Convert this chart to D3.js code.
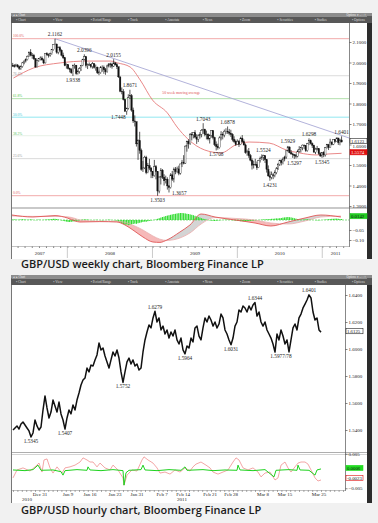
<!DOCTYPE html>
<html lang="en">
<head>
<meta charset="utf-8">
<title>GBP/USD weekly and hourly charts</title>
<script src="https://cdn.jsdelivr.net/npm/d3@7"></script>
<style>
  body { margin: 0; background: #f1f1f1; }
  svg { display: block; }
  .caption { font-family: "Open Sans", sans-serif; font-weight: 600; font-size: 11px; fill: #1b1b1b; }
</style>
</head>
<body>
<script>
// ---------- weekly data (bars ending on Fridays, from 11 May 2007) ----------
const weeklyStart = new Date(2007, 4, 11);
const weeklyClose = [
  1.985,1.980,1.988,1.979,1.971,1.980,1.998,2.007,2.014,2.030,
  2.050,2.036,2.035,2.018,1.978,2.010,2.018,2.022,2.013,1.998,
  2.044,2.038,2.036,2.043,2.062,2.088,2.090,2.050,2.072,2.060,
  2.036,2.023,1.985,1.990,
  1.970,1.966,1.950,1.985,1.987,1.946,1.956,1.970,1.986,2.016,
  2.028,1.985,1.988,1.990,1.980,1.994,1.976,1.977,1.950,1.950,
  1.976,1.977,1.965,1.955,1.983,1.993,1.992,1.982,1.998,1.989,
  1.979,1.930,1.860,1.857,1.820,1.762,1.777,1.828,1.838,1.768,
  1.715,1.712,1.603,1.619,1.571,1.479,1.486,1.538,1.463,1.497,
  1.485,1.469,
  1.448,1.492,1.468,1.373,1.441,1.475,1.440,1.423,1.431,1.398,
  1.390,1.452,1.431,1.480,1.468,1.481,1.460,1.505,1.514,1.509,
  1.592,1.616,1.604,1.649,1.647,1.657,1.636,1.626,1.642,1.650,
  1.669,1.674,1.650,1.650,1.627,1.645,1.668,1.634,1.600,1.590,
  1.584,1.632,1.649,1.646,1.664,1.665,1.661,1.655,1.649,1.625,
  1.614,1.600,
  1.615,1.600,1.631,1.614,1.598,1.561,1.567,1.546,1.524,1.499,
  1.504,1.502,1.487,1.522,1.532,1.539,1.545,1.526,1.479,1.447,
  1.440,1.452,1.450,1.463,1.481,1.503,1.522,1.512,1.529,1.539,
  1.569,1.588,1.560,1.554,1.550,1.545,1.543,1.567,1.576,1.585,
  1.597,1.594,1.570,1.604,1.618,1.605,1.596,1.563,1.577,1.580,
  1.556,1.544,1.560,
  1.549,1.584,1.599,1.585,1.612,1.601,1.624,1.614,1.632,1.609,
  1.622,1.612
];
const weeklyHigh = [
  1.998,1.992,1.994,1.992,1.985,1.986,2.003,2.010,2.020,2.034,
  2.054,2.065,2.046,2.042,2.022,2.014,2.022,2.030,2.030,2.019,
  2.045,2.050,2.044,2.048,2.066,2.090,2.116,2.092,2.078,2.080,
  2.064,2.048,2.027,1.995,
  1.990,1.975,1.972,1.990,1.995,1.988,1.965,1.977,1.988,2.018,
  2.040,2.032,1.995,2.000,1.993,2.002,1.995,1.990,1.980,1.960,
  1.983,1.986,1.985,1.973,1.989,1.997,1.999,1.999,2.016,2.002,
  1.997,1.980,1.930,1.878,1.870,1.822,1.780,1.845,1.867,1.846,
  1.780,1.742,1.710,1.625,1.662,1.580,1.520,1.545,1.545,1.510,
  1.530,1.490,
  1.471,1.525,1.500,1.470,1.445,1.485,1.480,1.455,1.448,1.440,
  1.402,1.460,1.471,1.488,1.490,1.492,1.497,1.506,1.525,1.548,
  1.596,1.619,1.625,1.656,1.660,1.659,1.670,1.650,1.650,1.660,
  1.675,1.704,1.677,1.668,1.655,1.650,1.670,1.670,1.638,1.615,
  1.604,1.640,1.665,1.660,1.673,1.679,1.688,1.676,1.672,1.655,
  1.640,1.624,
  1.625,1.622,1.638,1.646,1.625,1.605,1.575,1.583,1.554,1.532,
  1.521,1.530,1.517,1.525,1.541,1.552,1.550,1.548,1.527,1.498,
  1.469,1.468,1.460,1.474,1.490,1.510,1.526,1.528,1.537,1.545,
  1.572,1.593,1.590,1.573,1.560,1.554,1.555,1.575,1.592,1.589,
  1.600,1.600,1.595,1.608,1.630,1.624,1.610,1.599,1.584,1.593,
  1.582,1.562,1.562,
  1.567,1.588,1.603,1.603,1.628,1.615,1.626,1.627,1.634,1.630,
  1.628,1.640
];
const weeklyLow = [
  1.978,1.975,1.977,1.975,1.963,1.964,1.975,1.991,2.000,2.010,
  2.027,2.030,2.018,2.012,1.975,1.980,2.003,2.010,2.008,1.992,
  1.995,2.033,2.024,2.028,2.038,2.058,2.085,2.043,2.040,2.050,
  2.030,2.017,1.982,1.970,
  1.966,1.952,1.945,1.934,1.970,1.940,1.941,1.946,1.959,1.982,
  2.010,1.975,1.968,1.984,1.972,1.970,1.970,1.960,1.944,1.938,
  1.945,1.955,1.945,1.940,1.950,1.976,1.975,1.970,1.978,1.985,
  1.968,1.925,1.855,1.845,1.815,1.760,1.745,1.770,1.822,1.760,
  1.705,1.688,1.590,1.525,1.555,1.472,1.466,1.480,1.455,1.460,
  1.475,1.436,
  1.436,1.443,1.430,1.350,1.362,1.405,1.432,1.400,1.410,1.380,
  1.366,1.385,1.422,1.415,1.455,1.460,1.450,1.453,1.490,1.503,
  1.505,1.565,1.580,1.598,1.620,1.630,1.630,1.603,1.612,1.629,
  1.635,1.652,1.640,1.625,1.620,1.605,1.633,1.625,1.592,1.571,
  1.575,1.580,1.620,1.625,1.635,1.651,1.652,1.645,1.637,1.615,
  1.608,1.593,
  1.598,1.588,1.597,1.608,1.595,1.555,1.545,1.535,1.518,1.478,
  1.483,1.495,1.476,1.485,1.512,1.525,1.520,1.510,1.463,1.442,
  1.423,1.430,1.431,1.440,1.455,1.476,1.495,1.498,1.503,1.518,
  1.530,1.565,1.557,1.550,1.535,1.530,1.532,1.537,1.560,1.561,
  1.572,1.578,1.564,1.565,1.597,1.600,1.583,1.560,1.553,1.571,
  1.550,1.540,1.535,
  1.538,1.541,1.580,1.573,1.584,1.596,1.597,1.608,1.612,1.598,
  1.596,1.611
];
// MACD-style histogram, one value per week
const weeklyHist = [
  0.002,0.003,0.002,0.001,0.002,0.003,0.004,0.003,0.002,0.001,
  0.002,0.003,0.002,0.000,-0.001,0.001,0.002,0.001,0.000,0.001,
  0.002,0.003,0.003,0.004,0.005,0.006,0.006,0.005,0.003,0.001,
  -0.002,-0.004,-0.006,-0.008,-0.010,-0.010,-0.009,-0.008,-0.006,-0.004,-0.003,-0.001,
  0.001,0.002,0.003,0.003,0.002,0.001,0.000,-0.001,0.000,0.001,
  0.001,0.000,-0.001,-0.002,-0.001,0.000,0.001,0.002,0.001,0.000,-0.001,-0.002,
  -0.004,-0.008,-0.012,-0.016,-0.020,-0.024,-0.022,-0.026,-0.025,-0.022,
  -0.020,-0.018,-0.019,-0.016,-0.014,-0.012,-0.010,-0.008,-0.009,-0.006,
  -0.004,-0.003,-0.001,0.001,0.003,
  0.006,0.009,0.012,0.015,0.017,0.020,0.022,0.024,0.026,0.028,
  0.030,0.031,0.033,0.034,0.035,0.035,0.034,0.033,0.031,0.030,
  0.028,0.026,0.024,0.021,0.018,0.015,0.012,0.009,0.006,0.004,
  0.002,0.000,-0.002,-0.003,-0.004,-0.005,-0.004,-0.003,-0.002,-0.001,
  0.000,0.001,0.002,0.002,0.001,0.000,-0.001,-0.002,-0.003,-0.004,
  -0.005,-0.006,-0.006,-0.007,-0.007,-0.006,-0.005,-0.004,-0.004,-0.003,
  -0.002,-0.001,0.000,0.001,0.002,0.003,0.003,0.004,0.004,0.005,
  0.006,0.006,0.007,0.008,0.008,0.009,
  0.010,0.012,0.013,0.014,0.015,0.014,0.013,0.011,0.009,0.007,0.005,0.003,
  0.002,0.001,0.002,0.003,0.004,0.003,0.002,0.001,0.000,-0.001,
  -0.002,-0.002,-0.001,0.000,0.001,0.002,0.003,0.004,0.005,0.006,
  0.006,0.007,0.007,0.006,0.005,0.005
];
// indicator lines read at a few dates
const macdDates = ["2007-05-08","2007-08-06","2007-11-09","2008-01-01","2008-02-03","2008-02-24",
  "2008-05-20","2008-08-01","2008-09-05","2008-10-09","2008-11-21","2009-01-03","2009-02-02",
  "2009-03-04","2009-04-29","2009-06-11","2009-07-29","2009-09-27","2009-12-22","2010-03-18",
  "2010-05-25","2010-08-07","2010-10-19","2010-12-26","2011-03-22"];
const macdLine = [0.025,0.015,0.022,0.010,-0.005,-0.010,-0.008,-0.010,-0.025,-0.050,-0.085,-0.110,
  -0.112,-0.100,-0.060,-0.025,0.030,0.015,0.000,-0.015,-0.030,-0.010,0.010,0.025,0.015];
const signalLine = [0.020,0.018,0.018,0.016,0.008,0.000,-0.006,-0.006,-0.012,-0.026,-0.050,-0.080,
  -0.096,-0.102,-0.090,-0.065,-0.020,0.012,0.008,0.000,-0.015,-0.020,-0.005,0.015,0.020];
const maDates = ["2007-05-14","2007-08-08","2007-12-01","2008-03-27","2008-07-04","2008-08-04",
  "2008-09-27","2008-11-09","2009-01-01","2009-03-06","2009-04-17","2009-06-02","2009-08-14",
  "2009-10-23","2009-12-25","2010-02-21","2010-05-18","2010-07-31","2010-09-24","2010-12-06",
  "2011-01-30","2011-03-25"];
const maValues = [1.924,1.973,1.998,2.007,2.007,1.998,1.978,1.915,1.817,1.754,1.685,1.627,1.573,
  1.559,1.598,1.612,1.607,1.573,1.559,1.549,1.554,1.557];
const trendDates = ["2007-11-09", "2011-04-26"];
const trendValues = [2.1162, 1.632];
const fibHigh = 2.1162, fibLow = 1.3503;
const fibLevels = [0, 0.236, 0.382, 0.5, 0.618, 0.764, 1];
const fibText = ["0.0%", "23.6%", "38.2%", "50.0%", "61.8%", "76.4%", "100.0%"];
const weeklyTicks = [1.3, 1.4, 1.5, 1.6, 1.7, 1.8, 1.9, 2.0, 2.1];
const years = [2007, 2008, 2009, 2010, 2011];
// [week index, label, placement]
const weeklyNotes = [
  [26, "2.1162", "hi"], [37, "1.9338", "lo"], [44, "2.0396", "hi"], [62, "2.0155", "hi"],
  [72, "1.8671", "hi"], [70, "1.7448", "left"], [89, "1.3503", "lo"], [96, "1.3657", "right"],
  [117, "1.7043", "hi"], [125, "1.5708", "lo"], [132, "1.6878", "hi"], [154, "1.5524", "hi"],
  [158, "1.4231", "lo"], [169, "1.5929", "hi"], [173, "1.5297", "lo"], [182, "1.6298", "hi"],
  [190, "1.5345", "lo"], [202, "1.6401", "hi"]
];
const weeklyLast = 1.6123, weeklyMaLast = 1.5574, macdLast = 0.0142;

// ---------- hourly data (sampled along the session axis) ----------
const hourlyClose = [
  1.5400,1.5415,1.5430,1.5407,1.5444,1.5459,1.5437,1.5415,1.5393,1.5348,
  1.5378,1.5474,1.5430,1.5400,1.5422,1.5548,1.5652,1.5563,1.5489,1.5533,
  1.5622,1.5578,1.5533,1.5607,1.5519,1.5474,1.5407,1.5489,1.5548,1.5519,
  1.5585,1.5548,1.5622,1.5674,1.5733,1.5770,1.5785,1.5859,1.5830,1.5881,
  1.5874,1.5919,1.5956,1.6044,1.5993,1.6007,1.5948,1.5904,1.5859,1.5919,
  1.5978,1.5948,1.5993,1.5933,1.5830,1.5752,1.5830,1.5904,1.5933,1.5889,
  1.5919,1.5874,1.5889,1.5844,1.5859,1.5978,1.6067,1.6126,1.6178,1.6156,
  1.6230,1.6279,1.6200,1.6230,1.6141,1.6170,1.6111,1.6141,1.6081,1.6126,
  1.6096,1.6141,1.6067,1.6037,1.6081,1.5993,1.5964,1.6022,1.6007,1.6081,
  1.6052,1.6156,1.6170,1.6096,1.6067,1.6156,1.6230,1.6200,1.6244,1.6215,
  1.6170,1.6200,1.6156,1.6185,1.6259,1.6230,1.6141,1.6111,1.6067,1.6031,
  1.6081,1.6170,1.6200,1.6289,1.6274,1.6319,1.6304,1.6274,1.6319,1.6289,
  1.6326,1.6344,1.6244,1.6274,1.6200,1.6170,1.6200,1.6141,1.6111,1.6081,
  1.6037,1.5977,1.6111,1.6067,1.6141,1.6096,1.6037,1.6067,1.5978,1.6067,
  1.6156,1.6185,1.6141,1.6230,1.6259,1.6304,1.6333,1.6363,1.6401,1.6378,
  1.6274,1.6215,1.6230,1.6141,1.6125
];
const hourlyTicks = [1.54, 1.56, 1.58, 1.60, 1.62, 1.64];
const hourTickIdx = [13.5, 27.5, 38.5, 51, 62, 74.5, 85, 98.5, 109, 125, 136, 153];
const hourTickText = ["Dec 31", "Jan 9", "Jan 16", "Jan 23", "Jan 31", "Feb 7", "Feb 14",
  "Feb 21", "Feb 28", "Mar 8", "Mar 15", "Mar 25"];
const hourYearIdx = [7, 84.5];
const hourYearText = ["2010", "2011"];
const hourlyNotes = [
  [9, "1.5345", "lo"], [26, "1.5407", "lo"], [55, "1.5752", "lo"], [71, "1.6279", "hi"],
  [86, "1.5964", "lo"], [109, "1.6031", "lo"], [121, "1.6344", "hi"], [134, "1.5977/78", "lo"],
  [148, "1.6401", "hi"]
];
// oscillators: [session index, value]
const oscRed = [
  [0,-0.0020],[2,0.0003],[5,0.0009],[8.5,0],[11,0.0012],[13,0.0023],[14.5,-0.0003],[15.5,0.0032],
  [17,0.0035],[18.5,0.0009],[20,-0.0006],[22,0.0012],[24.5,-0.0006],[26,0.0009],[28.5,0.0012],
  [31,0.0017],[33.5,0.0026],[35,0.0038],[37,0.0032],[38.5,0.0026],[40,0.0026],[42,0.0012],
  [43.5,0.0023],[46,0.0009],[48.5,0.0003],[50,0.0017],[52.5,0.0003],[55,-0.0020],[55.5,-0.0041],
  [57,-0.0012],[59.5,0.0003],[62,0],[64.5,0.0032],[65.5,0.0041],[67.5,0.0032],[70,0.0023],
  [72,0.0009],[73.5,-0.0006],[76,-0.0003],[78.5,-0.0009],[81,0.0003],[83.5,-0.0003],[86,0.0009],
  [88.5,0],[90,0.0012],[91.5,0.0020],[94,0.0026],[96.5,0.0017],[98.5,0.0009],[100,-0.0003],
  [102.5,-0.0009],[105,-0.0003],[107.5,0.0003],[110,0.0026],[111.5,0.0038],[113,0.0032],
  [115,0.0009],[117.5,0.0003],[120,0.0009],[122.5,-0.0003],[124,-0.0017],[126,-0.0006],
  [128.5,-0.0003],[131,-0.0026],[132.5,-0.0020],[134,0.0017],[136,0.0026],[137.5,0.0009],
  [139,-0.0003],[141,0.0012],[142.5,0.0023],[144,0.0026],[146,0.0026],[147.5,0.0020],
  [149,0.0003],[151,-0.0020],[152.5,-0.0029],[154,-0.0026]
];
const oscGreen = [
  [0,0.0003],[6,0.0001],[10,0.0004],[12.5,0.0017],[14,0.0002],[20,0.0003],[24,-0.0002],
  [25,-0.0012],[26,0.0001],[32,0.0004],[37,0.0002],[37.5,0.0012],[38.5,0.0003],[44,0.0001],
  [50,0.0004],[55,0.0001],[55.5,-0.0041],[56.5,-0.0005],[58,0.0002],[64,0.0004],[65,0.0017],
  [66,0.0003],[72,0.0001],[78,0.0004],[84,0.0002],[86,0.0012],[87,0.0002],[95,0.0004],
  [100,0.0001],[106,0.0003],[112,0.0002],[112.5,0.0017],[113.5,0.0003],[120,0.0001],
  [126,0.0004],[130.5,-0.0017],[131.5,0.0002],[138,0.0004],[142,0.0002],[142.5,0.0017],
  [143.5,0.0003],[148,0.0002],[151,-0.0012],[152,0.0003],[154,0.0006]
];
const hourlyLast = 1.6125, oscGreenLast = 0.0006, oscRedLast = -0.0023;
const oscTicks = [0.005, -0.005];

const toolbarItems = ["Chart", "View", "Period/Range", "Track", "Annotate", "News", "Zoom",
  "Securities", "Studies", "Options"];

// ---------- drawing ----------
const svg = d3.select("body").append("svg").attr("width", 378).attr("height", 523);
const defs = svg.append("defs");
const serif = "Liberation Serif, Times New Roman, serif";
const parse = d3.timeParse("%Y-%m-%d");

function panel(top, bottom) {
  svg.append("rect").attr("x", 11).attr("y", top).attr("width", 357).attr("height", bottom - top)
    .attr("fill", "#fff");
  svg.append("rect").attr("x", 367).attr("y", top).attr("width", 5).attr("height", bottom - top)
    .attr("fill", "#2c2c2c");
  svg.append("line").attr("x1", 11.5).attr("x2", 11.5).attr("y1", top).attr("y2", bottom)
    .attr("stroke", "#777");
  // title strip and toolbar
  svg.append("rect").attr("x", 11).attr("y", top).attr("width", 361).attr("height", 3.5).attr("fill", "#8c8c8c");
  svg.append("rect").attr("x", 11).attr("y", top + 3.5).attr("width", 361).attr("height", 6.5).attr("fill", "#585858");
  svg.append("text").attr("x", 13).attr("y", top + 2.9).attr("font-family", serif).attr("font-size", 3)
    .attr("fill", "#eee").text("◂ ▸ Chart");
  svg.append("text").attr("x", 366).attr("y", top + 2.9).attr("font-family", serif).attr("font-size", 3)
    .attr("fill", "#eee").attr("text-anchor", "end").text("Options ▾ – □ ×");
  const tx = d3.scalePoint().domain(toolbarItems).range([16, 352]);
  svg.append("g").selectAll("text").data(toolbarItems).join("text")
    .attr("x", d => tx(d)).attr("y", top + 8).attr("font-family", serif).attr("font-size", 3.4)
    .attr("fill", "#ddd").text(d => "▪ " + d);
}

function valueBox(x, y, text, fill, stroke, color) {
  svg.append("rect").attr("x", x).attr("y", y - 3.6).attr("width", 17).attr("height", 5.2)
    .attr("fill", fill).attr("stroke", stroke).attr("stroke-width", 0.6);
  svg.append("text").attr("x", x + 1).attr("y", y + 0.8).attr("font-family", serif).attr("font-size", 4.8)
    .attr("fill", color).text(text);
}

function styleAxis(g) {
  g.attr("font-family", serif).attr("font-size", 5);
  g.selectAll("text").attr("fill", "#222");
  g.selectAll("line").attr("stroke", "#333").attr("stroke-width", 0.6);
  g.select(".domain").remove();
}

function noteText(g, x, y, text, kind) {
  const t = g.append("text").attr("font-family", serif).attr("font-size", 5.3).attr("fill", "#222").text(text);
  if (kind === "hi") t.attr("x", x).attr("y", y - 2.5).attr("text-anchor", "middle");
  else if (kind === "lo") t.attr("x", x).attr("y", y + 6).attr("text-anchor", "middle");
  else if (kind === "left") t.attr("x", x - 1).attr("y", y + 4.5).attr("text-anchor", "end");
  else t.attr("x", x + 3).attr("y", y + 2).attr("text-anchor", "start");
}

// ===== weekly chart =====
panel(13, 259);
const xW = d3.scaleTime().domain([new Date(2007, 4, 8), new Date(2011, 3, 26)]).range([12, 349]);
const yW = d3.scaleLinear().domain([1.3, 2.1]).range([206, 42]);
const yM = d3.scaleLinear().domain([0, -0.1]).range([220, 240]);

defs.append("clipPath").attr("id", "clipW").append("rect")
  .attr("x", 12).attr("y", 23).attr("width", 337).attr("height", 184);
defs.append("clipPath").attr("id", "clipM").append("rect")
  .attr("x", 12).attr("y", 209).attr("width", 337).attr("height", 37);

const gW = svg.append("g").attr("clip-path", "url(#clipW)");
const fibColor = ["#f0a0a0", "#d6d6d6", "#e4efe4", "#84e4ee", "#a9dea3", "#d6d6d6", "#f0a0a0"];
const fibTextColor = ["#e05a5a", "#999", "#5cbf5c", "#39c4d2", "#4cbf44", "#999", "#e05a5a"];
fibLevels.forEach((f, i) => {
  const y = yW(fibLow + f * (fibHigh - fibLow));
  gW.append("line").attr("x1", 12).attr("x2", 349).attr("y1", y).attr("y2", y)
    .attr("stroke", fibColor[i]).attr("stroke-width", 0.9);
  gW.append("text").attr("x", 13).attr("y", y - 1.2).attr("font-family", serif).attr("font-size", 3.6)
    .attr("fill", fibTextColor[i]).text(fibText[i]);
});

gW.append("path")
  .datum(trendDates.map((d, i) => [parse(d), trendValues[i]]))
  .attr("d", d3.line().x(d => xW(d[0])).y(d => yW(d[1])))
  .attr("fill", "none").attr("stroke", "#a9a9d6").attr("stroke-width", 0.9);

gW.append("path")
  .datum(maDates.map((d, i) => [parse(d), maValues[i]]))
  .attr("d", d3.line().curve(d3.curveMonotoneX).x(d => xW(d[0])).y(d => yW(d[1])))
  .attr("fill", "none").attr("stroke", "#e77a7a").attr("stroke-width", 0.9);
gW.append("text").attr("x", xW(parse("2009-02-12"))).attr("y", yW(1.848))
  .attr("font-family", serif).attr("font-size", 3.8).attr("fill", "#e05050").text("50 week moving average");

const weeks = weeklyClose.map((c, i) => ({
  date: d3.timeDay.offset(weeklyStart, i * 7),
  open: i ? weeklyClose[i - 1] : c,
  close: c, high: weeklyHigh[i], low: weeklyLow[i]
}));
gW.append("g").selectAll("line").data(weeks).join("line")
  .attr("x1", d => xW(d.date)).attr("x2", d => xW(d.date))
  .attr("y1", d => yW(d.high)).attr("y2", d => yW(d.low))
  .attr("stroke", "#111").attr("stroke-width", 0.7);
gW.append("g").selectAll("rect").data(weeks).join("rect")
  .attr("x", d => xW(d.date) - 0.75).attr("width", 1.5)
  .attr("y", d => yW(Math.max(d.open, d.close)))
  .attr("height", d => Math.max(0.6, Math.abs(yW(d.open) - yW(d.close))))
  .attr("fill", d => d.close >= d.open ? "#fff" : "#111")
  .attr("stroke", "#111").attr("stroke-width", 0.35);

const gWn = svg.append("g");
weeklyNotes.forEach(([i, text, kind]) => {
  noteText(gWn, xW(weeks[i].date), yW(parseFloat(text)), text, kind);
});

// indicator sub-panel
svg.append("rect").attr("x", 12).attr("y", 207).attr("width", 355).attr("height", 2).attr("fill", "#c9c9c9");
const gM = svg.append("g").attr("clip-path", "url(#clipM)");
const macd = macdDates.map((d, i) => ({ date: parse(d), m: macdLine[i], s: signalLine[i] }));
const lineM = d3.line().curve(d3.curveMonotoneX).x(d => xW(d.date));
const areaBetween = d3.area().curve(d3.curveMonotoneX).x(d => xW(d.date)).y0(d => yM(d.s)).y1(d => yM(d.m));
defs.append("clipPath").attr("id", "belowSig").append("path")
  .attr("d", d3.area().curve(d3.curveMonotoneX).x(d => xW(d.date)).y0(260).y1(d => yM(d.s))(macd));
defs.append("clipPath").attr("id", "aboveSig").append("path")
  .attr("d", d3.area().curve(d3.curveMonotoneX).x(d => xW(d.date)).y0(200).y1(d => yM(d.s))(macd));
gM.append("path").attr("d", areaBetween(macd)).attr("fill", "#f6b9b9").attr("clip-path", "url(#belowSig)");
gM.append("path").attr("d", areaBetween(macd)).attr("fill", "#d4d4d4").attr("clip-path", "url(#aboveSig)");
gM.append("line").attr("x1", 12).attr("x2", 349).attr("y1", yM(0)).attr("y2", yM(0))
  .attr("stroke", "#3ccf3c").attr("stroke-width", 0.6).attr("stroke-dasharray", "2,1");
gM.append("g").selectAll("rect").data(weeks).join("rect")
  .attr("x", d => xW(d.date) - 0.6).attr("width", 1.2)
  .attr("y", (d, i) => Math.min(yM(0), yM(weeklyHist[i])))
  .attr("height", (d, i) => Math.abs(yM(weeklyHist[i]) - yM(0)))
  .attr("fill", "#33dd33");
gM.append("path").datum(macd).attr("d", lineM.y(d => yM(d.s)))
  .attr("fill", "none").attr("stroke", "#eaa6a6").attr("stroke-width", 0.7);
gM.append("path").datum(macd).attr("d", lineM.y(d => yM(d.m)))
  .attr("fill", "none").attr("stroke", "#e05555").attr("stroke-width", 0.9);
svg.append("line").attr("x1", 12).attr("x2", 349).attr("y1", 246.5).attr("y2", 246.5)
  .attr("stroke", "#999").attr("stroke-width", 0.6);

// axes
svg.append("line").attr("x1", 349.5).attr("x2", 349.5).attr("y1", 23).attr("y2", 247)
  .attr("stroke", "#555").attr("stroke-width", 0.7);
svg.append("g").attr("transform", "translate(349.5,0)")
  .call(d3.axisRight(yW).tickValues(weeklyTicks).tickFormat(d3.format(".4f")).tickSize(2).tickPadding(1))
  .call(g => g.selectAll(".tick text").attr("dy", d => d === 1.6 ? "0.6em" : "0.32em"))
  .call(styleAxis);
valueBox(350, yW(weeklyLast), weeklyLast.toFixed(4), "#fff", "#222", "#111");
valueBox(350, yW(weeklyMaLast), weeklyMaLast.toFixed(4), "#e01010", "#e01010", "#fff");
svg.append("g").attr("transform", "translate(349.5,0)")
  .call(d3.axisRight(yM).tickValues([-0.05, -0.1]).tickFormat(d3.format(".2f")).tickSize(2).tickPadding(1))
  .call(styleAxis);
valueBox(350, yM(macdLast), macdLast.toFixed(4), "#22cc22", "#22cc22", "#111");

svg.append("g").attr("transform", "translate(0,246.5)")
  .call(d3.axisBottom(xW).ticks(d3.timeMonth.every(1)).tickSize(1.5).tickFormat(""))
  .call(styleAxis);
years.slice(1).forEach(y => {
  const x = xW(new Date(y, 0, 1));
  svg.append("line").attr("x1", x).attr("x2", x).attr("y1", 247).attr("y2", 258)
    .attr("stroke", "#b5b5b5").attr("stroke-width", 0.7);
});
years.forEach(y => {
  const a = Math.max(12, xW(new Date(y, 0, 1)));
  const b = Math.min(349, xW(new Date(y + 1, 0, 1)));
  svg.append("text").attr("x", (a + b) / 2).attr("y", 255).attr("text-anchor", "middle")
    .attr("font-family", serif).attr("font-size", 5).attr("fill", "#222").text(y);
});

svg.append("text").attr("class", "caption").attr("x", 21).attr("y", 268)
  .text("GBP/USD weekly chart, Bloomberg Finance LP");

// ===== hourly chart =====
panel(275, 503);
const xH = d3.scaleLinear().domain([0, 166]).range([13, 345]);
const yH = d3.scaleLinear().domain([1.54, 1.64]).range([430, 295]);
const yO = d3.scaleLinear().domain([0, 0.005]).range([471, 453.75]);

defs.append("clipPath").attr("id", "clipH").append("rect")
  .attr("x", 12).attr("y", 285).attr("width", 333).attr("height", 167);
defs.append("clipPath").attr("id", "clipO").append("rect")
  .attr("x", 12).attr("y", 455).attr("width", 333).attr("height", 35);

svg.append("g").attr("clip-path", "url(#clipH)").append("path")
  .datum(hourlyClose)
  .attr("d", d3.line().x((d, i) => xH(i)).y(d => yH(d)))
  .attr("fill", "none").attr("stroke", "#111").attr("stroke-width", 1.5).attr("stroke-linejoin", "round");

const gHn = svg.append("g");
hourlyNotes.forEach(([i, text, kind]) => {
  noteText(gHn, xH(i), yH(parseFloat(text)), text, kind);
});

svg.append("line").attr("x1", 12).attr("x2", 367).attr("y1", 452.5).attr("y2", 452.5)
  .attr("stroke", "#999").attr("stroke-width", 0.8);
svg.append("line").attr("x1", 12).attr("x2", 367).attr("y1", 454.5).attr("y2", 454.5)
  .attr("stroke", "#c8c8c8").attr("stroke-width", 0.8);

const gO = svg.append("g").attr("clip-path", "url(#clipO)");
const lineO = d3.line().x(d => xH(d[0])).y(d => yO(d[1]));
gO.append("path").datum(oscRed).attr("d", lineO)
  .attr("fill", "none").attr("stroke", "#ee8080").attr("stroke-width", 0.7);
gO.append("path").datum(oscGreen).attr("d", lineO)
  .attr("fill", "none").attr("stroke", "#1fd21f").attr("stroke-width", 1);
svg.append("line").attr("x1", 12).attr("x2", 345).attr("y1", 490.5).attr("y2", 490.5)
  .attr("stroke", "#999").attr("stroke-width", 0.6);

svg.append("line").attr("x1", 345.5).attr("x2", 345.5).attr("y1", 285).attr("y2", 491)
  .attr("stroke", "#555").attr("stroke-width", 0.7);
svg.append("g").attr("transform", "translate(345.5,0)")
  .call(d3.axisRight(yH).tickValues(hourlyTicks).tickFormat(d3.format(".4f")).tickSize(2).tickPadding(1))
  .call(styleAxis);
valueBox(346, yH(hourlyLast), hourlyLast.toFixed(4), "#fff", "#222", "#111");
svg.append("g").attr("transform", "translate(345.5,0)")
  .call(d3.axisRight(yO).tickValues(oscTicks).tickFormat(d3.format(".3f")).tickSize(2).tickPadding(1))
  .call(styleAxis);
valueBox(346, yO(oscGreenLast), oscGreenLast.toFixed(4), "#22dd22", "#22dd22", "#111");
valueBox(346, yO(oscRedLast), oscRedLast.toFixed(4), "#fff", "#e01010", "#111");

svg.append("g").attr("transform", "translate(0,490.5)")
  .call(d3.axisBottom(xH).tickValues(d3.range(0, 166, 2.2)).tickSize(1.2).tickFormat(""))
  .call(styleAxis);
svg.append("g").selectAll("text").data(hourTickText).join("text")
  .attr("x", (d, i) => xH(hourTickIdx[i])).attr("y", 495.5).attr("text-anchor", "middle")
  .attr("font-family", serif).attr("font-size", 5).attr("fill", "#222").text(d => d);
svg.append("g").selectAll("text").data(hourYearText).join("text")
  .attr("x", (d, i) => xH(hourYearIdx[i])).attr("y", 501).attr("text-anchor", "middle")
  .attr("font-family", serif).attr("font-size", 5).attr("fill", "#222").text(d => d);

svg.append("text").attr("class", "caption").attr("x", 21).attr("y", 514)
  .text("GBP/USD hourly chart, Bloomberg Finance LP");
</script>
</body>
</html>
